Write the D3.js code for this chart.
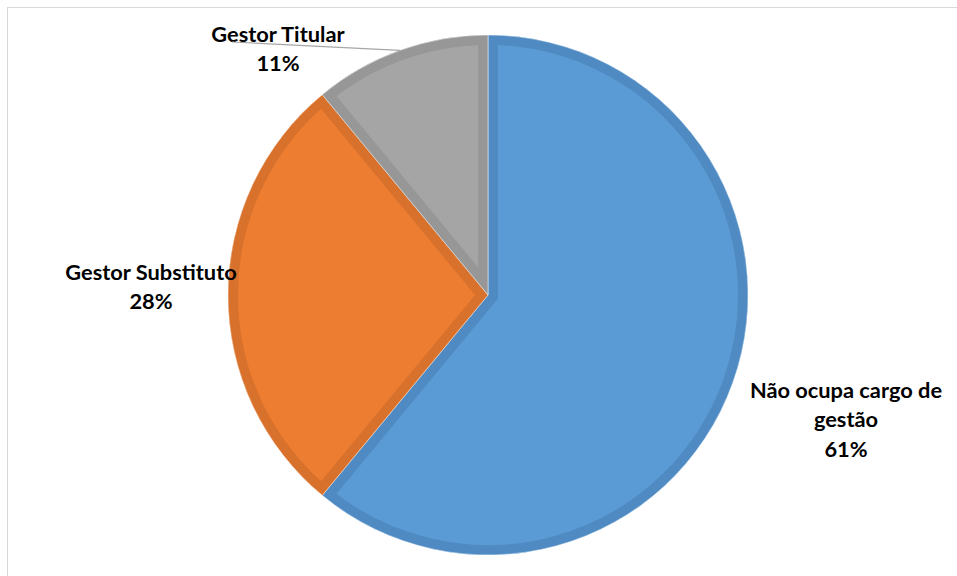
<!DOCTYPE html>
<html>
<head>
<meta charset="utf-8">
<script src="https://cdn.jsdelivr.net/npm/d3@7"></script>
<style>
  body { margin: 0; background: #fff; }
  svg text { font-family: Lato, "Open Sans", sans-serif; font-weight: bold; font-size: 21.8px; fill: #000; }
</style>
</head>
<body>
<div id="chart"></div>
<script>
(function() {
  var categories = ['Não ocupa cargo de gestão', 'Gestor Substituto', 'Gestor Titular'];
  var labelLines = [['Não ocupa cargo de', 'gestão'], ['Gestor Substituto'], ['Gestor Titular']];
  var values = [61, 28, 11];
  var fills = ['#5b9bd5', '#ed7d31', '#a5a5a5'];
  var strokes = ['#4f8bc2', '#d8712c', '#979797'];

  var width = 957, height = 576;
  var cx = 488, cy = 295, radius = 260;

  var svg = d3.select('#chart').append('svg')
    .attr('width', width)
    .attr('height', height);

  // chart frame
  svg.append('rect')
    .attr('x', 7.5).attr('y', 7.5)
    .attr('width', width).attr('height', height)
    .attr('fill', 'none')
    .attr('stroke', '#d9d9d9')
    .attr('stroke-width', 1);

  var data = values.map(function(v, i) {
    return { name: categories[i], value: v, i: i };
  });

  var pie = d3.pie().sort(null).value(function(d) { return d.value; });
  var arc = d3.arc().innerRadius(0).outerRadius(radius);
  var arcs = pie(data);

  var g = svg.append('g').attr('transform', 'translate(' + cx + ',' + cy + ')');
  var defs = svg.append('defs');

  defs.selectAll('clipPath').data(arcs).enter().append('clipPath')
    .attr('id', function(d) { return 'clip' + d.data.i; })
    .append('path').attr('d', arc);

  var slices = g.selectAll('g.slice').data(arcs).enter().append('g').attr('class', 'slice');

  slices.append('path')
    .attr('d', arc)
    .attr('fill', function(d) { return fills[d.data.i]; });

  // inner border, clipped to its own slice
  slices.append('path')
    .attr('d', arc)
    .attr('fill', 'none')
    .attr('stroke', function(d) { return strokes[d.data.i]; })
    .attr('stroke-width', 20)
    .attr('stroke-linejoin', 'miter')
    .attr('clip-path', function(d) { return 'url(#clip' + d.data.i + ')'; });

  slices.append('path')
    .attr('d', arc)
    .attr('fill', 'none')
    .attr('stroke', '#fff')
    .attr('stroke-opacity', 0.6)
    .attr('stroke-width', 0.8);

  // label anchors (centre of first line), relative to pie centre
  var labelAt = [[358, 95], [-337, -23], [-210, -261]];

  var labels = g.selectAll('text.lbl').data(arcs).enter().append('text')
    .attr('class', 'lbl')
    .attr('text-anchor', 'middle');

  labels.each(function(d) {
    var t = d3.select(this);
    var p = labelAt[d.data.i];
    var lines = labelLines[d.data.i].concat([d.data.value + '%']);
    lines.forEach(function(s, k) {
      t.append('tspan')
        .attr('x', p[0])
        .attr('y', p[1] + k * 29.5)
        .attr('dy', '0.35em')
        .text(s);
    });
  });

  // leader line for the small slice
  var small = arcs[2];
  var mid = (small.startAngle + small.endAngle) / 2;
  g.append('line')
    .attr('x1', -256).attr('y1', -253)
    .attr('x2', Math.sin(mid) * radius)
    .attr('y2', -Math.cos(mid) * radius)
    .attr('stroke', '#a6a6a6')
    .attr('stroke-width', 1.2);
})();
</script>
</body>
</html>
